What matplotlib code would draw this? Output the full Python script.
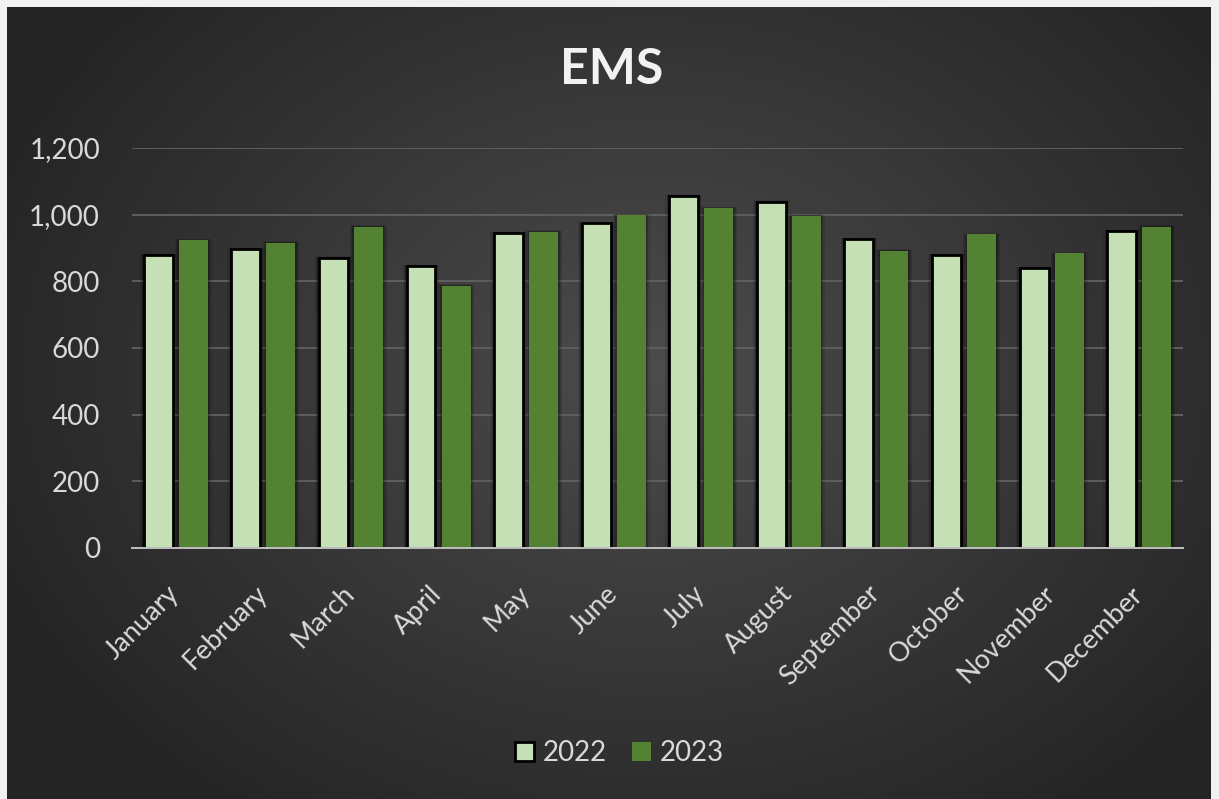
import numpy as np
import matplotlib
matplotlib.use("Agg")
import matplotlib.pyplot as plt
from matplotlib.patches import Patch, Rectangle
from matplotlib.ticker import FuncFormatter, MultipleLocator
from matplotlib.transforms import ScaledTranslation

months = ["January", "February", "March", "April", "May", "June", "July",
          "August", "September", "October", "November", "December"]
series_names = ["2022", "2023"]
values_2022 = [879, 896, 871, 846, 944, 974, 1057, 1039, 927, 879, 839, 951]
values_2023 = [924, 916, 964, 787, 949, 999, 1020, 997, 892, 941, 884, 964]
title = "EMS"

plt.rcParams['font.family'] = ['Lato', 'DejaVu Sans']

W, H = 1219, 799
fig = plt.figure(figsize=(W / 100, H / 100), dpi=100)
fig.patch.set_facecolor("#f1f1f1")

# background panel with radial gradient
x0, x1, y0, y1 = 7, 1211, 0, 792  # in pixels from bottom
fig.patches.append(Rectangle((x0 / W, 0), (x1 - x0) / W, y1 / H, transform=fig.transFigure,
                             facecolor="#2a2a2a", edgecolor="none", zorder=-10))
bg = fig.add_axes([x0 / W, y0 / H, (x1 - x0) / W, (y1 - y0) / H])
bg.set_axis_off()
bg.set_zorder(-5)
gx = np.linspace(x0, x1, 400)
gy = np.linspace(H - y1, H - y0, 300)  # top to bottom in image coords
GX, GY = np.meshgrid(gx, gy)
cx, cy = 650, 370
r = np.sqrt(((GX - cx) / 720) ** 2 + ((GY - cy) / 560) ** 2)
r = np.clip(r, 0, 1)
c_in = np.array([0x4c, 0x4c, 0x4c]) / 255
c_out = np.array([0x24, 0x24, 0x24]) / 255
img = c_in[None, None, :] * (1 - r[..., None]) + c_out[None, None, :] * r[..., None]
bg.imshow(img, aspect='auto', extent=[0, 1, 0, 1], interpolation='bilinear')
bg.set_xlim(0, 1)
bg.set_ylim(0, 1)

ax = fig.add_axes([132 / W, (H - 548) / H, (1183 - 132) / W, (548 - 148) / H])
ax.set_facecolor('none')
ax.set_zorder(1)

x = np.arange(len(months))
w = 0.33
off = 0.2
# soft shadows behind bars
for k, a in [(0.09, 0.10), (0.06, 0.14), (0.035, 0.2)]:
    ax.bar(x - off, np.array(values_2022) + k * 40, width=w + k, color="black",
           alpha=a, edgecolor="none", zorder=2)
    ax.bar(x + off, np.array(values_2023) + k * 40, width=w + k, color="black",
           alpha=a, edgecolor="none", zorder=2)
ax.bar(x - off, values_2022, width=w, color="#c5e0b4", edgecolor="#000000",
       linewidth=2.0, zorder=3)
ax.bar(x + off, values_2023, width=w, color="#548235", edgecolor="none",
       zorder=3)

ax.set_xlim(-0.5, len(months) - 0.5)
ax.set_ylim(0, 1200)
ax.yaxis.set_major_locator(MultipleLocator(200))
ax.yaxis.set_major_formatter(FuncFormatter(lambda v, p: f"{int(v):,}"))
ax.grid(axis='y', color="#5e5e5e", linewidth=1.4, zorder=0)
ax.set_axisbelow(True)
for s in ['top', 'right', 'left']:
    ax.spines[s].set_visible(False)
ax.spines['bottom'].set_color("#bfbfbf")
ax.spines['bottom'].set_linewidth(1.4)
ax.spines['bottom'].set_zorder(4)

ax.tick_params(axis='y', length=0, pad=23, labelsize=20, labelcolor="#d9d9d9")
ax.tick_params(axis='x', length=0, pad=18, labelsize=19.5, labelcolor="#d9d9d9")
ax.set_xticks(x)
ax.set_xticklabels(months, rotation=45, ha='right', rotation_mode='anchor')
shift = ScaledTranslation(-9 / 100, -8 / 100, fig.dpi_scale_trans)
for lab in ax.get_xticklabels():
    lab.set_transform(lab.get_transform() + shift)

fig.text(612 / W, 1 - 70 / H, title, ha='center', va='center', fontsize=36,
         fontweight='bold', color="#f2f2f2", zorder=5)

handles = [Patch(facecolor="#c5e0b4", edgecolor="#000000", linewidth=2.0),
           Patch(facecolor="#548235", edgecolor="none")]
leg = fig.legend(handles, series_names, loc='center', bbox_to_anchor=(619 / W, 1 - 753 / H),
                 ncol=2, frameon=False, fontsize=20, handlelength=0.7, handleheight=0.7,
                 handletextpad=0.3, columnspacing=0.9, labelcolor="#d9d9d9")
leg.set_zorder(5)

fig.savefig("out.png", dpi=100, facecolor=fig.get_facecolor())
